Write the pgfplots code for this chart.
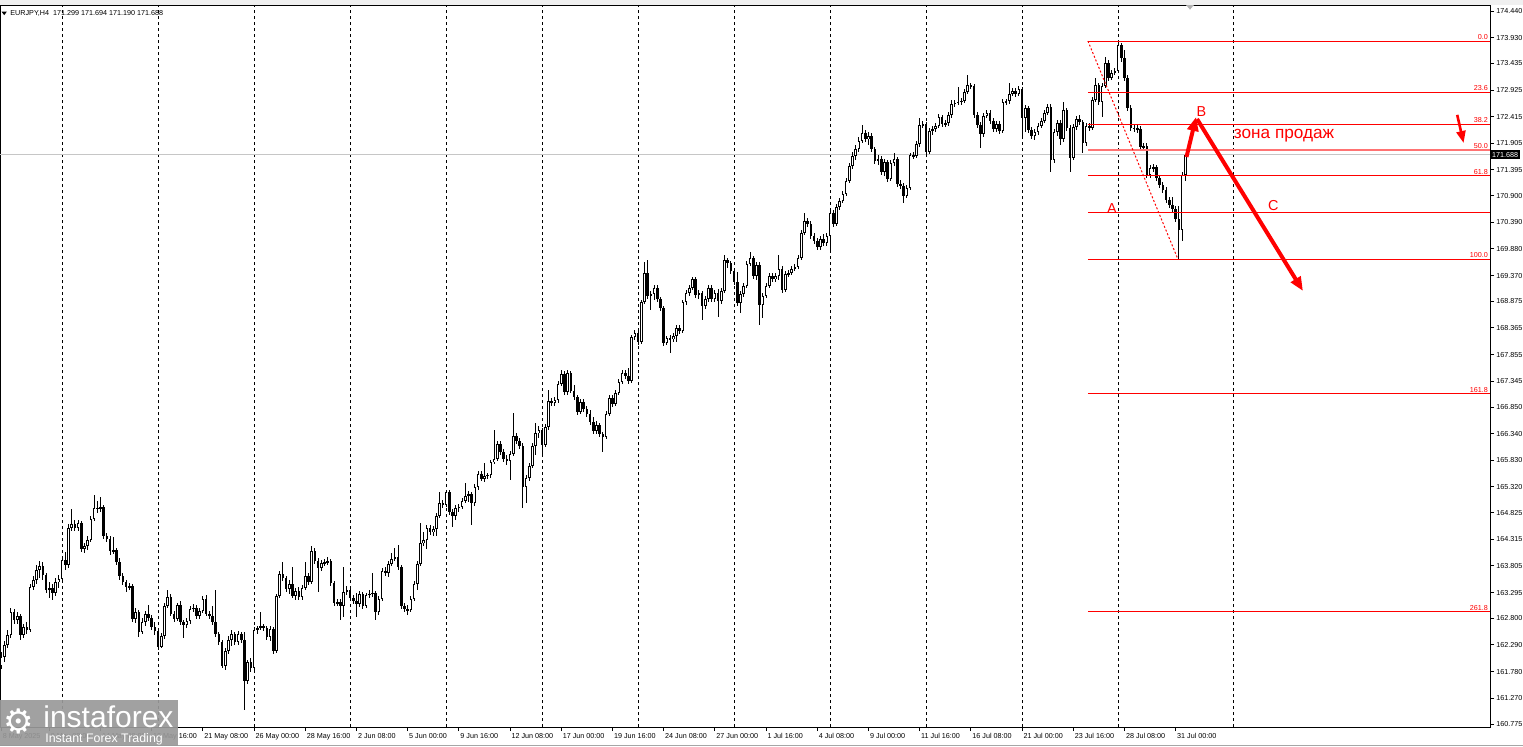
\documentclass[border=0pt]{standalone}
\usepackage{pgfplots}
\pgfplotsset{compat=1.18}
\usepackage{pgfplotstable}
\usepackage{fontspec}
\setmainfont{Liberation Sans}
\newfontfamily\dejavu{DejaVu Sans}
\usetikzlibrary{arrows.meta}
\definecolor{fibred}{RGB}{255,0,0}

\pgfplotstableread{
x o h l c
0 161.89 162.16 161.83 162.06
1 162.06 162.37 161.96 162.29
2 162.29 162.58 162.23 162.48
3 162.48 163.00 162.42 162.92
4 162.92 162.98 162.69 162.77
5 162.77 162.92 162.69 162.85
6 162.85 162.88 162.39 162.48
7 162.48 162.69 162.42 162.64
8 162.64 162.73 162.50 162.58
9 162.58 163.46 162.54 163.40
10 163.40 163.61 163.34 163.54
11 163.54 163.82 163.46 163.73
12 163.73 163.90 163.57 163.80
13 163.80 163.88 163.54 163.63
14 163.63 163.67 163.29 163.34
15 163.34 163.50 163.19 163.38
16 163.38 163.46 163.15 163.29
17 163.29 163.57 163.23 163.50
18 163.50 163.63 163.38 163.55
19 163.55 163.99 163.50 163.92
20 163.92 164.07 163.73 163.82
21 163.82 164.61 163.77 164.53
22 164.53 164.90 164.47 164.61
23 164.61 164.69 164.47 164.53
24 164.53 164.69 164.47 164.63
25 164.63 164.67 164.07 164.13
26 164.13 164.24 164.05 164.19
27 164.19 164.38 164.11 164.30
28 164.30 164.76 164.26 164.70
29 164.70 165.16 164.67 164.92
30 164.92 165.05 164.82 164.90
31 164.90 165.13 164.84 164.93
32 164.93 164.97 164.32 164.38
33 164.38 164.44 164.26 164.32
34 164.32 164.38 164.01 164.09
35 164.09 164.36 164.03 164.11
36 164.11 164.15 163.82 163.88
37 163.88 163.96 163.54 163.61
38 163.61 163.67 163.44 163.50
39 163.50 163.54 163.31 163.40
40 163.40 163.48 163.34 163.42
41 163.42 163.46 162.73 162.79
42 162.79 163.00 162.71 162.92
43 162.92 162.96 162.44 162.54
44 162.54 162.81 162.50 162.73
45 162.73 162.94 162.65 162.88
46 162.88 163.06 162.75 162.81
47 162.81 162.86 162.58 162.64
48 162.64 162.73 162.48 162.56
49 162.56 162.62 162.19 162.25
50 162.25 162.52 162.23 162.46
51 162.46 163.09 162.40 163.04
52 163.04 163.34 163.00 163.21
53 163.21 163.27 162.85 162.88
54 162.88 162.94 162.73 162.79
55 162.79 163.09 162.75 163.06
56 163.06 163.13 162.67 162.73
57 162.73 162.77 162.42 162.67
58 162.67 162.81 162.62 162.75
59 162.75 163.04 162.69 162.98
60 162.98 163.08 162.92 163.00
61 163.00 163.06 162.79 162.85
62 162.85 163.00 162.79 162.94
63 162.94 163.23 162.90 163.17
64 163.17 163.25 162.85 162.88
65 162.88 162.94 162.79 162.85
66 162.85 163.04 162.67 162.73
67 162.73 163.34 162.44 162.50
68 162.50 162.54 162.29 162.35
69 162.35 162.39 161.85 161.89
70 161.89 162.23 161.81 162.17
71 162.17 162.46 162.12 162.39
72 162.39 162.58 162.27 162.50
73 162.50 162.54 162.29 162.35
74 162.35 162.56 162.29 162.50
75 162.50 162.54 162.33 162.39
76 162.39 162.54 161.04 161.60
77 161.60 162.00 161.54 161.96
78 161.96 162.04 161.77 161.85
79 161.85 162.64 161.79 162.58
80 162.58 162.65 162.50 162.62
81 162.62 162.92 162.58 162.65
82 162.65 162.69 162.56 162.62
83 162.62 162.65 162.39 162.44
84 162.44 162.65 162.37 162.60
85 162.60 162.64 162.12 162.17
86 162.17 163.27 162.14 163.23
87 163.23 163.71 163.19 163.65
88 163.65 163.88 163.52 163.57
89 163.57 163.61 163.31 163.36
90 163.36 163.54 163.27 163.46
91 163.46 163.78 163.19 163.23
92 163.23 163.38 163.15 163.33
93 163.33 163.40 163.15 163.21
94 163.21 163.44 163.15 163.38
95 163.38 163.88 163.34 163.61
96 163.61 163.67 163.44 163.50
97 163.50 164.19 163.46 164.09
98 164.09 164.15 163.84 163.90
99 163.90 163.96 163.31 163.77
100 163.77 163.92 163.71 163.86
101 163.86 163.94 163.80 163.88
102 163.88 163.98 163.82 163.90
103 163.90 163.94 163.42 163.48
104 163.48 163.52 163.04 163.09
105 163.09 163.17 163.04 163.11
106 163.11 163.17 162.77 163.04
107 163.04 163.78 162.83 163.31
108 163.31 163.42 163.25 163.34
109 163.34 163.38 163.13 163.19
110 163.19 163.25 163.08 163.13
111 163.13 163.29 162.83 163.08
112 163.08 163.33 163.02 163.27
113 163.27 163.31 162.98 163.04
114 163.04 163.29 163.00 163.25
115 163.25 163.34 163.19 163.27
116 163.27 163.67 163.21 163.29
117 163.29 163.33 162.77 162.92
118 162.92 163.23 162.86 163.17
119 163.17 163.77 163.13 163.71
120 163.71 163.78 163.61 163.67
121 163.67 163.90 163.59 163.84
122 163.84 164.05 163.80 163.94
123 163.94 164.15 163.90 163.98
124 163.98 164.21 163.73 163.78
125 163.78 163.82 162.98 163.04
126 163.04 163.09 162.92 162.98
127 162.98 163.06 162.86 162.96
128 162.96 163.23 162.92 163.17
129 163.17 163.52 163.13 163.46
130 163.46 163.90 163.34 163.84
131 163.84 164.63 163.80 164.24
132 164.24 164.45 164.19 164.30
133 164.30 164.59 164.13 164.53
134 164.53 164.59 164.40 164.45
135 164.45 164.57 164.38 164.51
136 164.51 164.82 164.38 164.76
137 164.76 165.22 164.72 165.01
138 165.01 165.07 164.92 164.97
139 164.97 165.26 164.93 165.22
140 165.22 165.26 164.78 164.84
141 164.84 164.90 164.55 164.76
142 164.76 164.97 164.69 164.92
143 164.92 164.99 164.84 164.93
144 164.93 165.11 164.90 165.05
145 165.05 165.39 165.01 165.15
146 165.15 165.24 165.03 165.18
147 165.18 165.22 164.59 165.01
148 165.01 165.37 164.95 165.32
149 165.32 165.62 165.26 165.57
150 165.57 165.62 165.43 165.47
151 165.47 165.78 165.41 165.53
152 165.53 165.59 165.47 165.55
153 165.55 165.84 165.49 165.80
154 165.80 166.41 165.76 165.85
155 165.85 166.20 165.82 166.14
156 166.14 166.20 165.93 165.99
157 165.99 166.05 165.80 165.85
158 165.85 165.93 165.74 165.82
159 165.82 166.01 165.45 165.95
160 165.95 166.74 165.91 166.30
161 166.30 166.35 166.14 166.20
162 166.20 166.26 166.05 166.10
163 166.10 166.16 164.92 165.32
164 165.32 165.55 165.01 165.49
165 165.49 165.78 165.43 165.72
166 165.72 166.16 165.68 166.10
167 166.10 166.54 165.93 166.35
168 166.35 166.49 166.26 166.41
169 166.41 166.45 165.93 166.12
170 166.12 166.53 166.08 166.47
171 166.47 167.18 166.41 166.97
172 166.97 167.02 166.87 166.93
173 166.93 167.04 166.87 166.99
174 166.99 167.35 166.93 167.29
175 167.29 167.56 167.25 167.48
176 167.48 167.54 167.08 167.14
177 167.14 167.56 167.08 167.50
178 167.50 167.54 167.12 167.16
179 167.16 167.27 166.99 167.04
180 167.04 167.08 166.70 166.76
181 166.76 167.00 166.72 166.95
182 166.95 167.00 166.76 166.81
183 166.81 166.87 166.66 166.72
184 166.72 166.79 166.51 166.56
185 166.56 166.66 166.33 166.39
186 166.39 166.58 166.33 166.51
187 166.51 166.54 166.28 166.33
188 166.33 166.37 165.99 166.28
189 166.28 166.77 166.24 166.72
190 166.72 167.08 166.68 167.02
191 167.02 167.08 166.85 166.91
192 166.91 167.18 166.87 167.12
193 167.12 167.39 167.08 167.33
194 167.33 167.56 167.29 167.50
195 167.50 167.56 167.39 167.44
196 167.44 167.60 167.29 167.35
197 167.35 168.23 167.31 168.19
198 168.19 168.33 168.14 168.27
199 168.27 168.33 168.04 168.10
200 168.10 168.90 168.06 168.86
201 168.86 169.63 168.83 169.42
202 169.42 169.67 168.92 168.98
203 168.98 169.07 168.71 169.02
204 169.02 169.19 168.90 169.13
205 169.13 169.19 168.86 168.92
206 168.92 168.96 168.69 168.75
207 168.75 168.79 168.02 168.08
208 168.08 168.21 168.04 168.17
209 168.17 168.23 167.89 168.15
210 168.15 168.27 168.10 168.21
211 168.21 168.42 168.10 168.37
212 168.37 168.42 168.25 168.31
213 168.31 168.90 168.27 168.86
214 168.86 169.09 168.81 169.04
215 169.04 169.19 168.98 169.13
216 169.13 169.34 169.09 169.30
217 169.30 169.34 168.94 169.00
218 169.00 169.09 168.92 169.04
219 169.04 169.07 168.52 168.79
220 168.79 168.98 168.73 168.92
221 168.92 169.19 168.86 169.13
222 169.13 169.19 168.86 168.92
223 168.92 169.09 168.86 169.04
224 169.04 169.11 168.58 168.88
225 168.88 169.13 168.83 169.07
226 169.07 169.76 169.04 169.67
227 169.67 169.71 169.51 169.61
228 169.61 169.65 169.40 169.46
229 169.46 169.49 169.19 169.25
230 169.25 169.44 168.79 168.84
231 168.84 169.07 168.65 169.02
232 169.02 169.23 168.96 169.17
233 169.17 169.65 169.13 169.59
234 169.59 169.82 169.55 169.71
235 169.71 169.74 169.30 169.36
236 169.36 169.63 169.29 169.57
237 169.57 169.63 168.42 168.81
238 168.81 169.04 168.56 168.98
239 168.98 169.23 168.94 169.17
240 169.17 169.42 169.13 169.36
241 169.36 169.42 169.25 169.30
242 169.30 169.42 169.25 169.36
243 169.36 169.76 169.29 169.49
244 169.49 169.55 169.04 169.09
245 169.09 169.46 169.06 169.40
246 169.40 169.48 169.34 169.42
247 169.42 169.55 169.38 169.49
248 169.49 169.59 169.46 169.53
249 169.53 169.76 169.49 169.71
250 169.71 170.24 169.67 170.19
251 170.19 170.57 170.15 170.42
252 170.42 170.47 170.30 170.36
253 170.36 170.42 170.07 170.13
254 170.13 170.18 169.97 170.03
255 170.03 170.09 169.86 169.92
256 169.92 170.13 169.86 170.07
257 170.07 170.17 169.94 169.99
258 169.99 170.19 169.94 170.13
259 170.13 170.63 169.86 170.57
260 170.57 170.63 170.30 170.36
261 170.36 170.74 170.32 170.68
262 170.68 170.86 170.63 170.80
263 170.80 170.99 170.76 170.93
264 170.93 171.24 170.89 171.18
265 171.18 171.53 171.14 171.47
266 171.47 171.74 171.41 171.66
267 171.66 171.87 171.59 171.80
268 171.80 172.03 171.74 171.95
269 171.95 172.26 171.91 172.10
270 172.10 172.16 171.93 171.99
271 171.99 172.12 171.87 172.04
272 172.04 172.10 171.74 171.80
273 171.80 171.83 171.51 171.57
274 171.57 171.68 171.49 171.60
275 171.60 171.66 171.30 171.35
276 171.35 171.60 171.28 171.55
277 171.55 171.59 171.16 171.22
278 171.22 171.59 171.18 171.53
279 171.53 171.72 171.47 171.60
280 171.60 171.64 171.07 171.12
281 171.12 171.20 171.03 171.09
282 171.09 171.14 170.76 170.89
283 170.89 171.11 170.86 171.05
284 171.05 171.72 171.01 171.68
285 171.68 171.74 171.60 171.66
286 171.66 171.95 171.62 171.89
287 171.89 172.39 171.83 172.26
288 172.26 172.33 172.20 172.27
289 172.27 172.31 171.64 171.74
290 171.74 172.20 171.70 172.14
291 172.14 172.24 172.06 172.18
292 172.18 172.29 172.12 172.24
293 172.24 172.47 172.20 172.41
294 172.41 172.45 172.22 172.27
295 172.27 172.35 172.22 172.29
296 172.29 172.50 172.24 172.45
297 172.45 172.74 172.39 172.66
298 172.66 172.74 172.60 172.68
299 172.68 172.98 172.64 172.70
300 172.70 172.77 172.64 172.72
301 172.72 172.94 172.68 172.89
302 172.89 173.21 172.85 173.02
303 173.02 173.06 172.94 173.00
304 173.00 173.04 172.39 172.45
305 172.45 172.50 172.20 172.26
306 172.26 172.31 171.81 172.08
307 172.08 172.49 172.03 172.43
308 172.43 172.54 172.39 172.49
309 172.49 172.54 172.27 172.33
310 172.33 172.39 172.12 172.18
311 172.18 172.33 172.12 172.27
312 172.27 172.33 172.08 172.14
313 172.14 172.75 172.10 172.70
314 172.70 172.75 172.64 172.71
315 172.71 173.06 172.66 172.85
316 172.85 172.96 172.81 172.91
317 172.91 172.96 172.79 172.85
318 172.85 173.00 172.81 172.94
319 172.94 172.98 172.01 172.39
320 172.39 172.64 172.12 172.58
321 172.58 172.62 172.10 172.16
322 172.16 172.22 171.99 172.04
323 172.04 172.18 171.97 172.12
324 172.12 172.29 172.06 172.24
325 172.24 172.39 172.20 172.33
326 172.33 172.54 172.29 172.49
327 172.49 172.66 172.45 172.60
328 172.60 172.66 171.35 171.59
329 171.59 172.18 171.53 172.12
330 172.12 172.35 172.04 172.29
331 172.29 172.35 171.87 171.99
332 171.99 172.70 171.93 172.54
333 172.54 172.58 172.14 172.20
334 172.20 172.26 171.35 171.62
335 171.62 172.27 171.59 172.22
336 172.22 172.43 172.16 172.37
337 172.37 172.45 172.26 172.31
338 172.31 172.35 171.72 171.91
339 171.91 172.29 171.85 172.24
340 172.24 172.29 172.14 172.20
341 172.20 172.79 172.16 172.74
342 172.74 173.16 172.70 173.02
343 173.02 173.06 172.64 172.70
344 172.70 173.06 172.41 173.00
345 173.00 173.56 172.96 173.44
346 173.44 173.50 173.10 173.16
347 173.16 173.31 173.12 173.25
348 173.25 173.35 173.21 173.29
349 173.29 173.87 173.25 173.79
350 173.79 173.83 173.46 173.54
351 173.54 173.69 173.10 173.16
352 173.16 173.21 172.52 172.58
353 172.58 172.64 172.14 172.20
354 172.20 172.26 172.12 172.19
355 172.19 172.27 172.10 172.18
356 172.18 172.24 171.78 171.83
357 171.83 171.91 171.78 171.85
358 171.85 171.91 171.24 171.30
359 171.30 171.49 171.24 171.43
360 171.43 171.51 171.35 171.45
361 171.45 171.49 171.18 171.24
362 171.24 171.30 171.05 171.11
363 171.11 171.16 170.95 171.01
364 171.01 171.07 170.76 170.82
365 170.82 170.88 170.66 170.72
366 170.72 170.88 170.59 170.65
367 170.65 170.70 170.40 170.45
368 170.45 170.70 169.69 170.24
369 170.24 171.35 170.03 171.30
370 171.30 171.69 171.19 171.69
}\candles

\begin{document}
\begin{tikzpicture}
\useasboundingbox (0,0) rectangle (761.5pt,-373pt);
\fill[gray!12] (0,0) rectangle (761.5pt,-2.5pt);
\begin{axis}[
  at={(0,-2.5pt)}, anchor=north west,
  scale only axis, width=745pt, height=361pt,
  xmin=-0.375, xmax=465.25, ymin=160.718, ymax=174.555,
  clip=false,
  axis line style={black, line width=0.5pt},
  tick style={black, line width=0.5pt},
  tick align=outside, major tick length=2pt,
  xtick pos=bottom, ytick pos=right, yticklabel pos=right,
  xtick={0,15,31,47,63,79,95,111,127,143,159,175,191,207,223,239,255,271,287,303,319,335,351,367},
  xticklabels={8 May 2025,9 May 08:00,14 May 00:00,16 May 16:00,21 May 08:00,26 May 00:00,28 May 16:00,2 Jun 08:00,5 Jun 00:00,9 Jun 16:00,12 Jun 08:00,17 Jun 00:00,19 Jun 16:00,24 Jun 08:00,27 Jun 00:00,1 Jul 16:00,4 Jul 08:00,9 Jul 00:00,11 Jul 16:00,16 Jul 08:00,21 Jul 00:00,23 Jul 16:00,28 Jul 08:00,31 Jul 00:00},
  xticklabel style={anchor=north west, font=\fontsize{3.6}{4}\selectfont, inner xsep=0.6pt, inner ysep=1pt},
  ytick={174.44,173.93,173.435,172.925,172.415,171.905,171.395,170.9,170.39,169.88,169.37,168.875,168.365,167.855,167.345,166.85,166.34,165.83,165.32,164.825,164.315,163.805,163.295,162.8,162.29,161.78,161.27,160.775},
  yticklabels={174.440,173.930,173.435,172.925,172.415,171.905,171.395,170.900,170.390,169.880,169.370,168.875,168.365,167.855,167.345,166.850,166.340,165.830,165.320,164.825,164.315,163.805,163.295,162.800,162.290,161.780,161.270,160.775},
  yticklabel style={anchor=west, font=\fontsize{3.6}{4}\selectfont, inner xsep=1pt},
  extra x ticks={19,49,79,109,139,169,199,229,259,289,319,349,385},
  extra x tick labels={},
  extra x tick style={grid=major, major tick length=0pt},
  major grid style={black, line width=0.5pt, dash pattern=on 1.5pt off 1.5pt},
]
% current price line
\addplot[gray!45, line width=0.5pt, forget plot] coordinates {(-0.375,171.688) (465.25,171.688)};
% wicks
\addplot[draw=none, mark=none, forget plot, error bars/.cd, y dir=both, y explicit, error mark=none, error bar style={draw=black, solid, line width=0.5pt}]
  table[x=x, y expr={(\thisrow{h}+\thisrow{l})/2}, y error expr={(\thisrow{h}-\thisrow{l})/2}] {\candles};
% bodies
\addplot[draw=none, mark=none, forget plot, error bars/.cd, y dir=both, y explicit, error mark=none, error bar style={draw=black, solid, line width=1.3pt}]
  table[x=x, y expr={(\thisrow{o}+\thisrow{c})/2}, y error expr={max(abs(\thisrow{c}-\thisrow{o})/2,0.008)}] {\candles};
% hollow interior of rising candles
\addplot[draw=none, mark=none, forget plot, error bars/.cd, y dir=both, y explicit, error mark=none, error bar style={draw=white, solid, line width=0.45pt}]
  table[x=x, y expr={(\thisrow{o}+\thisrow{c})/2}, y error expr={max((\thisrow{c}-\thisrow{o})/2-0.02,0)}] {\candles};

% Fibonacci levels
\addplot[fibred, line width=0.5pt] coordinates {(339.6,173.865) (465.25,173.865)};
\addplot[fibred, line width=0.5pt] coordinates {(339.6,172.879) (465.25,172.879)};
\addplot[fibred, line width=0.5pt] coordinates {(339.6,172.269) (465.25,172.269)};
\addplot[fibred!55, line width=0.8pt] coordinates {(339.6,171.776) (465.25,171.776)};
\addplot[fibred, line width=0.5pt] coordinates {(339.6,171.283) (465.25,171.283)};
\addplot[fibred, line width=0.5pt] coordinates {(339.6,170.581) (465.25,170.581)};
\addplot[fibred, line width=0.5pt] coordinates {(339.6,169.687) (465.25,169.687)};
\addplot[fibred, line width=0.5pt] coordinates {(339.6,167.105) (465.25,167.105)};
\addplot[fibred, line width=0.5pt] coordinates {(339.6,162.927) (465.25,162.927)};
\addplot[fibred, line width=0.5pt, dash pattern=on 1pt off 1pt] coordinates {(339.6,173.865) (367.7,169.687)};

\node[anchor=south east, text=fibred, font=\fontsize{3.6}{4}\selectfont, inner sep=0.5pt] at (axis cs:465,173.865) {0.0};
\node[anchor=south east, text=fibred, font=\fontsize{3.6}{4}\selectfont, inner sep=0.5pt] at (axis cs:465,172.879) {23.6};
\node[anchor=south east, text=fibred, font=\fontsize{3.6}{4}\selectfont, inner sep=0.5pt] at (axis cs:465,172.269) {38.2};
\node[anchor=south east, text=fibred, font=\fontsize{3.6}{4}\selectfont, inner sep=0.5pt] at (axis cs:465,171.776) {50.0};
\node[anchor=south east, text=fibred, font=\fontsize{3.6}{4}\selectfont, inner sep=0.5pt] at (axis cs:465,171.283) {61.8};
\node[anchor=south east, text=fibred, font=\fontsize{3.6}{4}\selectfont, inner sep=0.5pt] at (axis cs:465,169.687) {100.0};
\node[anchor=south east, text=fibred, font=\fontsize{3.6}{4}\selectfont, inner sep=0.5pt] at (axis cs:465,167.105) {161.8};
\node[anchor=south east, text=fibred, font=\fontsize{3.6}{4}\selectfont, inner sep=0.5pt] at (axis cs:465,162.927) {261.8};

% arrows
\addplot[fibred, line width=2pt, -{Triangle[length=7pt,width=5.5pt]}] coordinates {(370.4,171.642) (373.4,172.409)};
\addplot[fibred, line width=2pt, -{Triangle[length=7pt,width=5.5pt]}] coordinates {(373.7,172.37) (406.8,169.074)};
\addplot[fibred, line width=1.3pt, -{Triangle[length=6pt,width=4.5pt]}] coordinates {(455.0,172.45) (457.0,171.91)};

\node[text=fibred, font=\fontsize{7.2}{8}\selectfont] at (axis cs:375.1,172.505) {B};
\node[text=fibred, font=\fontsize{7.2}{8}\selectfont] at (axis cs:347.1,170.66) {A};
\node[text=fibred, font=\fontsize{7.2}{8}\selectfont] at (axis cs:397.5,170.72) {C};
\node[text=fibred, anchor=base west, inner sep=0pt, font=\fontsize{8.6}{10}\selectfont] at (axis cs:385.1,172.006) {зона продаж};

\node[fill=black, text=white, anchor=west, inner xsep=0.8pt, inner ysep=1pt, font=\fontsize{3.6}{4}\selectfont] at (axis cs:465.3,171.688) {171.688};
\end{axis}
% header
\fill[black] (0.8pt,-5.8pt) -- (3.4pt,-5.8pt) -- (2.1pt,-7.6pt) -- cycle;
\node[anchor=west, inner sep=0pt, font=\fontsize{3.6}{4}\selectfont] at (5pt,-6.8pt) {EURJPY,H4\ \ 171.299 171.694 171.190 171.688};
\fill[gray!60] (593pt,-2.5pt) -- (597pt,-2.5pt) -- (595pt,-4.8pt) -- cycle;
% bottom border
\draw[gray!70, line width=0.5pt] (0,-372.7pt) -- (761.5pt,-372.7pt);
% logo
\fill[gray!80, opacity=0.92] (0,-350pt) rectangle (89pt,-373pt);
\node[text=white, anchor=west, inner sep=0pt, font=\dejavu\fontsize{17}{17}\selectfont] at (1.5pt,-360.5pt) {⚙};
\node[text=white, anchor=base west, inner sep=0pt, font=\fontsize{15}{15}\selectfont] at (21.5pt,-363.5pt) {instaforex};
\node[text=white, anchor=base west, inner sep=0pt, font=\fontsize{6.2}{7}\selectfont] at (22.5pt,-371pt) {Instant Forex Trading};
\end{tikzpicture}
\end{document}
